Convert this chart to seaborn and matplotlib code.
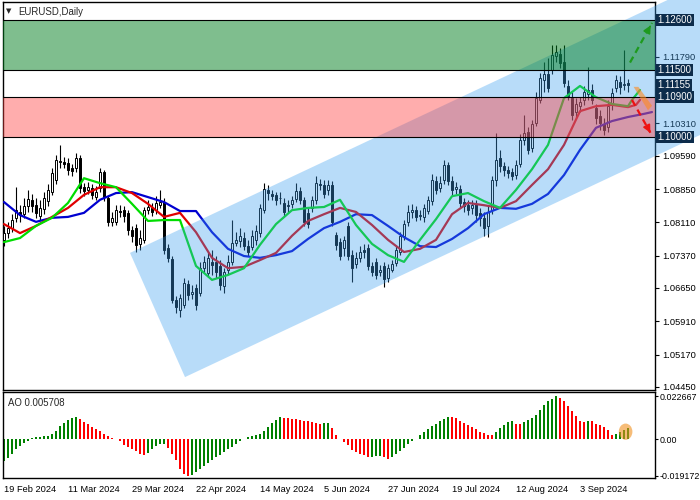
import numpy as np
import matplotlib
matplotlib.use("Agg")
import matplotlib.pyplot as plt
from matplotlib.patches import Polygon, Ellipse
from matplotlib.transforms import blended_transform_factory
import seaborn as sns

# EURUSD daily bars (one entry per bar)
opens = [1.0772, 1.0787, 1.0798, 1.0821, 1.0834, 1.0829, 1.0847, 1.0861, 1.0849, 1.0825,
         1.0841, 1.0858, 1.0878, 1.0905, 1.0945, 1.0945, 1.0943, 1.0932, 1.0932, 1.0954,
         1.0889, 1.0883, 1.0887, 1.0867, 1.0887, 1.0923, 1.0865, 1.0812, 1.0812, 1.0836,
         1.0838, 1.0832, 1.0794, 1.0798, 1.0763, 1.0772, 1.0838, 1.0843, 1.0838, 1.0849,
         1.0856, 1.0754, 1.0729, 1.0638, 1.0616, 1.0627, 1.0674, 1.0652, 1.0665, 1.0654,
         1.0709, 1.0698, 1.0723, 1.0723, 1.0714, 1.0669, 1.0705, 1.0723, 1.0765, 1.0769,
         1.0776, 1.0758, 1.0756, 1.0772, 1.0787, 1.0838, 1.0883, 1.0874, 1.0872, 1.0865,
         1.0854, 1.0847, 1.0852, 1.0863, 1.0881, 1.0861, 1.0832, 1.0843, 1.0861, 1.0896,
         1.0894, 1.0883, 1.0894, 1.0783, 1.0767, 1.0754, 1.0803, 1.0738, 1.0718, 1.0732,
         1.0749, 1.0754, 1.0714, 1.0723, 1.0701, 1.0714, 1.0687, 1.0705, 1.0721, 1.0745,
         1.0781, 1.0812, 1.0834, 1.0838, 1.0825, 1.0823, 1.0836, 1.0858, 1.0903, 1.0887,
         1.0905, 1.0938, 1.0903, 1.0885, 1.0885, 1.0856, 1.0849, 1.0843, 1.0852, 1.0832,
         1.0821, 1.0803, 1.0838, 1.0905, 1.0954, 1.0936, 1.0927, 1.0923, 1.0916, 1.0941,
         1.0994, 1.1012, 1.0976, 1.1032, 1.1083, 1.1127, 1.1141, 1.1149, 1.1181, 1.1185,
         1.1167, 1.1114, 1.1087, 1.1056, 1.1069, 1.1083, 1.1096, 1.1105, 1.1065, 1.1047,
         1.1029, 1.1023, 1.1072, 1.1109, 1.1123, 1.1116, 1.1121]
closes = [1.0787, 1.0798, 1.0816, 1.0838, 1.0827, 1.0847, 1.0863, 1.0847, 1.0832, 1.0843,
          1.0865, 1.0883, 1.0921, 1.0949, 1.0947, 1.0941, 1.0927, 1.0925, 1.0954, 1.0887,
          1.0881, 1.0889, 1.0872, 1.0878, 1.0923, 1.0867, 1.0812, 1.0821, 1.0838, 1.0834,
          1.0825, 1.0794, 1.0781, 1.0761, 1.0776, 1.0838, 1.0845, 1.0834, 1.0854, 1.0856,
          1.0749, 1.0732, 1.0638, 1.0623, 1.0643, 1.0676, 1.0649, 1.0656, 1.0627, 1.0709,
          1.0723, 1.0732, 1.0716, 1.0701, 1.0672, 1.0701, 1.0723, 1.0765, 1.0772, 1.0781,
          1.0758, 1.0745, 1.0781, 1.0792, 1.0843, 1.0885, 1.0876, 1.0869, 1.0861, 1.0864,
          1.0834, 1.0849, 1.0861, 1.0881, 1.0861, 1.0812, 1.0807, 1.0861, 1.0898, 1.0894,
          1.0874, 1.0894, 1.0812, 1.0761, 1.0736, 1.0772, 1.0736, 1.0709, 1.0732, 1.0745,
          1.0745, 1.0714, 1.0701, 1.0694, 1.0705, 1.0685, 1.0709, 1.0718, 1.0749, 1.0781,
          1.0807, 1.0834, 1.0838, 1.0823, 1.0827, 1.0843, 1.0861, 1.0905, 1.0883, 1.0898,
          1.0938, 1.0903, 1.0883, 1.0889, 1.0854, 1.0847, 1.0838, 1.0849, 1.0827, 1.0821,
          1.0798, 1.0834, 1.0905, 1.0949, 1.0936, 1.0927, 1.0921, 1.0914, 1.0938, 1.0994,
          1.1010, 1.0972, 1.1029, 1.1087, 1.1132, 1.1141, 1.1109, 1.1183, 1.1189, 1.1165,
          1.1121, 1.1092, 1.1049, 1.1074, 1.1078, 1.1101, 1.1105, 1.1083, 1.1043, 1.1032,
          1.1016, 1.1069, 1.1098, 1.1127, 1.1112, 1.1118, 1.1116]
highs = [1.0803, 1.0812, 1.0829, 1.0889, 1.0849, 1.0865, 1.0883, 1.0874, 1.0865, 1.0861,
         1.0878, 1.0896, 1.0932, 1.0961, 1.0983, 1.0956, 1.0954, 1.0941, 1.0965, 1.0961,
         1.0898, 1.0901, 1.0896, 1.0892, 1.0932, 1.0927, 1.0869, 1.0834, 1.0849, 1.0849,
         1.0847, 1.0838, 1.0803, 1.0807, 1.0794, 1.0845, 1.0861, 1.0854, 1.0869, 1.0883,
         1.0865, 1.0763, 1.0736, 1.0647, 1.0652, 1.0687, 1.0683, 1.0672, 1.0674, 1.0723,
         1.0736, 1.0745, 1.0749, 1.0736, 1.0727, 1.0709, 1.0738, 1.0816, 1.0789, 1.0798,
         1.0789, 1.0772, 1.0794, 1.0805, 1.0852, 1.0898, 1.0894, 1.0883, 1.0878, 1.0878,
         1.0865, 1.0861, 1.0869, 1.0898, 1.0889, 1.0867, 1.0843, 1.0869, 1.0914, 1.0907,
         1.0905, 1.0905, 1.0903, 1.0789, 1.0776, 1.0781, 1.0812, 1.0749, 1.0745, 1.0758,
         1.0763, 1.0763, 1.0723, 1.0732, 1.0716, 1.0723, 1.0718, 1.0727, 1.0758, 1.0789,
         1.0816, 1.0849, 1.0852, 1.0847, 1.0838, 1.0852, 1.0869, 1.0918, 1.0914, 1.0914,
         1.0949, 1.0945, 1.0914, 1.0901, 1.0894, 1.0865, 1.0861, 1.0861, 1.0861, 1.0843,
         1.0834, 1.0847, 1.0914, 1.1010, 1.0972, 1.0945, 1.0936, 1.0932, 1.0949, 1.1007,
         1.1049, 1.1023, 1.1038, 1.1101, 1.1143, 1.1167, 1.1176, 1.1205, 1.1205, 1.1198,
         1.1205, 1.1127, 1.1101, 1.1087, 1.1089, 1.1114, 1.1156, 1.1118, 1.1074, 1.1061,
         1.1043, 1.1083, 1.1109, 1.1138, 1.1136, 1.1194, 1.1129]
lows = [1.0758, 1.0776, 1.0789, 1.0812, 1.0812, 1.0821, 1.0834, 1.0834, 1.0821, 1.0816,
        1.0829, 1.0847, 1.0872, 1.0896, 1.0932, 1.0932, 1.0916, 1.0914, 1.0923, 1.0876,
        1.0869, 1.0874, 1.0863, 1.0861, 1.0878, 1.0858, 1.0803, 1.0803, 1.0805, 1.0823,
        1.0812, 1.0783, 1.0767, 1.0745, 1.0749, 1.0765, 1.0829, 1.0825, 1.0829, 1.0843,
        1.0741, 1.0723, 1.0632, 1.0610, 1.0601, 1.0621, 1.0638, 1.0641, 1.0616, 1.0647,
        1.0701, 1.0689, 1.0694, 1.0687, 1.0661, 1.0654, 1.0696, 1.0716, 1.0758, 1.0756,
        1.0749, 1.0736, 1.0749, 1.0761, 1.0778, 1.0832, 1.0861, 1.0861, 1.0849, 1.0852,
        1.0825, 1.0834, 1.0843, 1.0856, 1.0852, 1.0803, 1.0798, 1.0834, 1.0852, 1.0883,
        1.0865, 1.0872, 1.0803, 1.0749, 1.0727, 1.0736, 1.0727, 1.0678, 1.0709, 1.0723,
        1.0732, 1.0705, 1.0692, 1.0685, 1.0692, 1.0667, 1.0678, 1.0701, 1.0714, 1.0738,
        1.0772, 1.0803, 1.0821, 1.0814, 1.0816, 1.0812, 1.0829, 1.0849, 1.0874, 1.0878,
        1.0896, 1.0894, 1.0872, 1.0874, 1.0845, 1.0834, 1.0827, 1.0829, 1.0812, 1.0803,
        1.0781, 1.0778, 1.0829, 1.0892, 1.0923, 1.0914, 1.0909, 1.0905, 1.0907, 1.0934,
        1.0983, 1.0963, 1.0967, 1.1025, 1.1076, 1.1101, 1.1101, 1.1141, 1.1167, 1.1154,
        1.1112, 1.1083, 1.1038, 1.1043, 1.1056, 1.1072, 1.1083, 1.1074, 1.1029, 1.1016,
        1.1005, 1.1012, 1.1061, 1.1101, 1.1096, 1.1105, 1.1101]

# Awesome Oscillator, one value per bar
ao = [-0.0115, -0.0098, -0.0075, -0.0052, -0.0035, -0.0019, -0.0007, 0.0007, 0.0010, 0.0012,
      0.0016, 0.0019, 0.0030, 0.0045, 0.0070, 0.0087, 0.0103, 0.0113, 0.0115, 0.0106,
      0.0091, 0.0080, 0.0066, 0.0056, 0.0044, 0.0028, 0.0017, 0.0007, 0.0003, -0.0007,
      -0.0028, -0.0040, -0.0049, -0.0063, -0.0075, -0.0084, -0.0070, -0.0052, -0.0037, -0.0024,
      -0.0023, -0.0045, -0.0075, -0.0110, -0.0153, -0.0180, -0.019172, -0.0185, -0.0171, -0.0153,
      -0.0139, -0.0124, -0.0110, -0.0094, -0.0080, -0.0066, -0.0052, -0.0038, -0.0024, -0.0010,
      0.0002, 0.0012, 0.0017, 0.0021, 0.0030, 0.0044, 0.0064, 0.0084, 0.0103, 0.0115,
      0.0113, 0.0112, 0.0108, 0.0105, 0.0101, 0.0098, 0.0094, 0.0089, 0.0085, 0.0080,
      0.0084, 0.0087, 0.0059, 0.0024, 0.0003, -0.0014, -0.0031, -0.0058, -0.0066, -0.0075,
      -0.0084, -0.0092, -0.0091, -0.0089, -0.0087, -0.0094, -0.0105, -0.0091, -0.0075, -0.0063,
      -0.0044, -0.0026, -0.0010, 0.0003, 0.0024, 0.0038, 0.0052, 0.0068, 0.0082, 0.0094,
      0.0108, 0.0117, 0.0115, 0.0112, 0.0098, 0.0087, 0.0073, 0.0063, 0.0056, 0.0038,
      0.0033, 0.0024, 0.0021, 0.0038, 0.0059, 0.0077, 0.0091, 0.0094, 0.0082, 0.0080,
      0.0091, 0.0099, 0.0112, 0.0129, 0.0152, 0.0178, 0.0199, 0.0213, 0.022667, 0.0216,
      0.0199, 0.0174, 0.0150, 0.0122, 0.0098, 0.0092, 0.0096, 0.0094, 0.0082, 0.0073,
      0.0063, 0.0047, 0.0024, 0.0028, 0.0038, 0.0051, 0.005708]

# Alligator lines, sampled every 4 bars (jaw / teeth / lips run past the last bar)
jaw = [1.0856, 1.0827, 1.0812, 1.0821, 1.0823, 1.0832, 1.0861, 1.0876, 1.0878, 1.0867,
       1.0856, 1.0836, 1.0836, 1.0789, 1.0752, 1.0736, 1.0732, 1.0738, 1.0747, 1.0774,
       1.0798, 1.0812, 1.0829, 1.0827, 1.0803, 1.0778, 1.0758, 1.0756, 1.0774, 1.0798,
       1.0829, 1.0843, 1.0841, 1.0852, 1.0874, 1.0916, 1.0972, 1.1021, 1.1036, 1.1045,
       1.1052, 1.1056]
jaw_bar = list(range(0, 161, 4)) + [162]
teeth = [1.0807, 1.0787, 1.0803, 1.0823, 1.0843, 1.0872, 1.0889, 1.0889, 1.0876, 1.0852,
         1.0823, 1.0832, 1.0789, 1.0732, 1.0709, 1.0712, 1.0727, 1.0743, 1.0781, 1.0814,
         1.0829, 1.0843, 1.0834, 1.0805, 1.0772, 1.0745, 1.0752, 1.0772, 1.0829, 1.0854,
         1.0849, 1.0843, 1.0858, 1.0894, 1.0929, 1.0983, 1.1058, 1.1069, 1.1072, 1.1067,
         1.1072, 1.1083]
teeth_bar = list(range(0, 157, 4)) + [158, 159]
lips = [1.0767, 1.0776, 1.0803, 1.0821, 1.0854, 1.0909, 1.0898, 1.0889, 1.0852, 1.0814,
        1.0816, 1.0816, 1.0714, 1.0683, 1.0694, 1.0709, 1.0761, 1.0807, 1.0838, 1.0843,
        1.0845, 1.0861, 1.0805, 1.0763, 1.0738, 1.0723, 1.0772, 1.0818, 1.0869, 1.0876,
        1.0858, 1.0843, 1.0883, 1.0929, 1.0983, 1.1087, 1.1114, 1.1089, 1.1074, 1.1069,
        1.1083, 1.1105]
lips_bar = list(range(0, 157, 4)) + [157, 159]

date_labels = ["19 Feb 2024", "11 Mar 2024", "29 Mar 2024", "22 Apr 2024", "14 May 2024",
               "5 Jun 2024", "27 Jun 2024", "19 Jul 2024", "12 Aug 2024", "3 Sep 2024"]
price_ticks = [1.0445, 1.0517, 1.0591, 1.0665, 1.0737, 1.0811, 1.0885, 1.0959,
               1.1031, 1.1179]
levels = [1.1260, 1.1150, 1.1090, 1.1000]
level_labels = ["1.12600", "1.11500", "1.10900", "1.10000"]
bid = 1.11155

# ascending channel: upper and lower edges (bar, price)
chan_upper_bar, chan_upper = [31.5, 174], [1.0743, 1.1339]
chan_lower_bar, chan_lower = [45.25, 174], [1.0467, 1.1005]

# forecast arrows drawn after the last bar
up_bar, up_price = [156.5, 162.0], [1.1166, 1.1254]
down_bar, down_price = [157.0, 161.6], [1.1083, 1.1010]

sns.set_style("white")
plt.rcParams["font.family"] = ["Liberation Sans", "DejaVu Sans"]
plt.rcParams["font.size"] = 6.7

fig = plt.figure(figsize=(7, 5), dpi=100)
ax = fig.add_axes([3 / 700, 1 - 390 / 500, 652 / 700, 388 / 500])
ao_ax = fig.add_axes([3 / 700, 1 - 478 / 500, 652 / 700, 86 / 500])

n = len(opens)
x = np.arange(n)
o, c, h, l = map(np.array, (opens, closes, highs, lows))
up = c >= o

# candles
ax.vlines(x, l, h, color="black", lw=0.8, zorder=3)
ax.bar(x, np.maximum(np.abs(c - o), 0.00006), bottom=np.minimum(o, c), width=0.6,
       color=np.where(up, "white", "black"), edgecolor="black", linewidth=0.7, zorder=4)

# alligator
sns.lineplot(x=jaw_bar, y=jaw, ax=ax, color="#0000d0", lw=1.6, zorder=5)
sns.lineplot(x=teeth_bar, y=teeth, ax=ax, color="#e00000", lw=1.6, zorder=5)
sns.lineplot(x=lips_bar, y=lips, ax=ax, color="#00dd00", lw=1.6, zorder=5)

# channel overlay (reaches into the price scale like in the terminal)
chan = Polygon([(chan_upper_bar[0], chan_upper[0]), (chan_upper_bar[1], chan_upper[1]),
                (chan_lower_bar[1], chan_lower[1]), (chan_lower_bar[0], chan_lower[0])],
               closed=True, facecolor="#3ca0f0", alpha=0.36, edgecolor="none",
               zorder=6, clip_on=False)
ax.add_patch(chan)

# resistance / support zones
ax.axhspan(levels[1], levels[0], color="#007f1f", alpha=0.5, lw=0, zorder=7)
ax.axhspan(levels[3], levels[2], color="#ff3c3c", alpha=0.42, lw=0, zorder=7)
for lv in levels:
    ax.axhline(lv, color="black", lw=0.8, zorder=8)

# forecast arrows
ax.plot(up_bar, up_price, ls=(0, (3, 2)), color="#1e9a1e", lw=1.6, zorder=9)
ax.annotate("", xy=(up_bar[1], up_price[1]), xytext=(up_bar[1] - 0.8, up_price[1] - 0.0013),
            arrowprops=dict(arrowstyle="-|>", color="#1e9a1e", lw=1.2, mutation_scale=11),
            zorder=9, annotation_clip=False)
ax.plot(down_bar, down_price, ls=(0, (3, 2)), color="#ee1111", lw=1.6, zorder=9)
ax.annotate("", xy=(down_bar[1], down_price[1]), xytext=(down_bar[1] - 0.6, down_price[1] + 0.0010),
            arrowprops=dict(arrowstyle="-|>", color="#ee1111", lw=1.2, mutation_scale=11),
            zorder=9, annotation_clip=False)
ax.add_patch(Polygon([(157.4, 1.1112), (158.6, 1.1112), (162.0, 1.1070), (161.0, 1.1060)],
                     closed=True, facecolor="#ff8a1e", alpha=0.6, edgecolor="none", zorder=9))

ax.set_xlim(-0.25, 162.75)
ax.set_ylim(1.04383, 1.13006)
ax.set_xticks([])
ax.yaxis.tick_right()
ax.set_yticks(price_ticks)
ax.set_yticklabels([f"{t:.5f}" for t in price_ticks])
ax.tick_params(axis="y", direction="out", length=3, width=0.8, pad=2, colors="black")
ax.yaxis.set_zorder(4)

# level boxes on the price scale
tr = blended_transform_factory(ax.transAxes, ax.transData)
box_levels = [levels[0], levels[1], bid, levels[2], levels[3]]
box_labels = [level_labels[0], level_labels[1], f"{bid:.5f}", level_labels[2], level_labels[3]]
for lv, lab in zip(box_levels, box_labels):
    ax.text(1.004, lv, lab, transform=tr, color="white", va="center", ha="left",
            fontsize=6.9, zorder=12, clip_on=False,
            bbox=dict(boxstyle="square,pad=0.12", fc="#0d2c4b", ec="none"))

ax.text(0.004, 0.984, "\u25bc", transform=ax.transAxes, fontsize=5, va="top",
        family="DejaVu Sans", zorder=12)
ax.text(0.023, 0.987, "EURUSD,Daily", transform=ax.transAxes, fontsize=6.9, va="top", zorder=12)

# AO subwindow
ao_colors = ["#008000" if i == 0 or ao[i] >= ao[i - 1] else "#ff0000" for i in range(n)]
ao_ax.bar(x, ao, width=0.72, color=ao_colors, lw=0)
ao_ax.add_patch(Ellipse((155.4, 0.0040), 3.4, 0.0085, facecolor="#f0901e", alpha=0.6,
                        edgecolor="none", zorder=5))
ao_ax.set_xlim(-0.25, 162.75)
ao_ax.set_ylim(-0.02022, 0.02476)
ao_ax.yaxis.tick_right()
ao_ax.set_yticks([-0.019172, 0.0, 0.022667])
ao_ax.set_yticklabels(["-0.019172", "0.00", "0.022667"], fontsize=6.4)
ao_ax.tick_params(axis="y", direction="out", length=2, width=0.8, pad=1, colors="black")
ao_ax.set_xticks(range(0, n, 16))
ao_ax.set_xticklabels(date_labels, ha="left")
ao_ax.tick_params(axis="x", direction="out", length=3, width=0.8, pad=2, colors="black")
ao_ax.text(0.007, 0.93, "AO 0.005708", transform=ao_ax.transAxes, fontsize=6.9, va="top")

for a in (ax, ao_ax):
    for s in a.spines.values():
        s.set_color("black")
        s.set_linewidth(1.0)

fig.savefig("out.png", dpi=100, facecolor="white")
